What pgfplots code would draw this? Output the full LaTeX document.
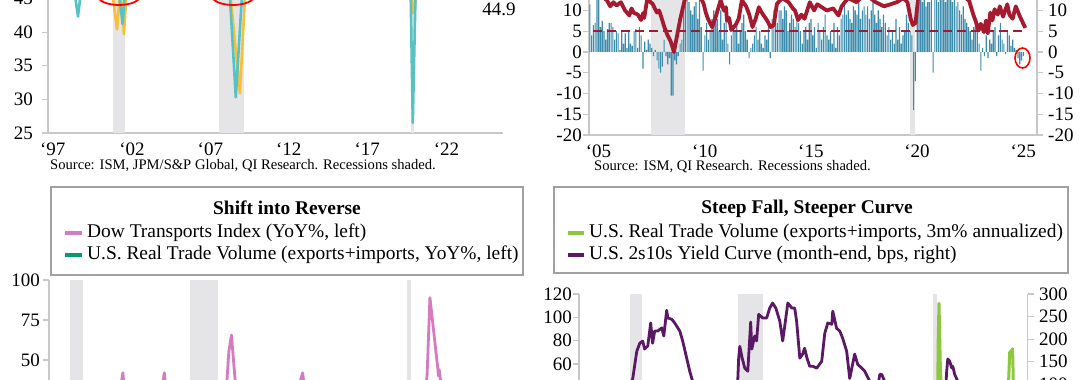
\documentclass[border=0pt]{standalone}
\usepackage{fontspec}
\setmainfont{Liberation Serif}
\usepackage{pgfplots}
\pgfplotsset{compat=1.18}
\definecolor{axisgray}{HTML}{C8C8CA}
\definecolor{recgray}{HTML}{E5E5E7}
\definecolor{tealc}{HTML}{55C3C6}
\definecolor{yellowc}{HTML}{F9BE3A}
\definecolor{barblue}{HTML}{3C8DAD}
\definecolor{darkred}{HTML}{A6192E}
\definecolor{pinkc}{HTML}{D67BBF}
\definecolor{greenc}{HTML}{009B77}
\definecolor{limec}{HTML}{8DC63F}
\definecolor{purplec}{HTML}{5B1865}
\definecolor{boxgray}{HTML}{A0A0A0}
\newcommand\tickfont{\fontsize{19}{21}\selectfont}
\newcommand\legfont{\fontsize{19.4}{22}\selectfont}
\newcommand\srcfont{\fontsize{14.6}{16}\selectfont}
\pgfplotsset{
  base/.style={scale only axis, anchor=south west,
    axis line style={draw=axisgray,line width=1.3pt},
    tick style={draw=axisgray,line width=1.1pt},
    tick align=outside, major tick length=6pt,
    ticklabel style={font=\tickfont, text=black},
    axis x line*=bottom, axis y line*=left,
    xtick style={draw=none}, clip=true},
}
\begin{document}
\begin{tikzpicture}[x=1pt,y=1pt]
\useasboundingbox (0,0) rectangle (1080,380);
\clip (0,0) rectangle (1080,380);
\fill[white] (0,0) rectangle (1080,380);
% ---------------- top-left -----------------
\begin{axis}[base, at={(48pt,247pt)}, width=455pt, height=235.5pt,
  xmin=1997, xmax=2026, ymin=25, ymax=60,
  ytick={25,30,35,40,45}, yticklabels={25,30,35,40,45},
  yticklabel style={inner sep=0pt, xshift=-9pt},
  xtick={1997.3,2002.35,2007.35,2012.35,2017.35,2022.4},
  xticklabels={‘97,‘02,‘07,‘12,‘17,‘22}]
\addplot[fill=recgray,draw=none] coordinates {(2001.17,25)(2001.92,25)(2001.92,60)(2001.17,60)} --cycle;
\addplot[fill=recgray,draw=none] coordinates {(2007.92,25)(2009.5,25)(2009.5,60)(2007.92,60)} --cycle;
\addplot[fill=recgray,draw=none] coordinates {(2020.12,25)(2020.35,25)(2020.35,60)(2020.12,60)} --cycle;
\addplot[yellowc, line width=2.6pt, line join=round] coordinates {
(1997.0,53)(1997.5,54)(1998.0,51)(1998.5,48)(1998.9,47)(1999.3,50)(1999.8,53)(2000.3,55)(2000.7,51)(2000.9,47)
(2001.15,45)(2001.4,40.4)(2001.58,45.5)(2001.72,44)(2001.84,39.7)(2002.0,45.5)(2002.3,50)(2003.0,49)(2004.0,56)
(2005.0,52)(2006.0,54)(2007.0,52)(2008.0,52)(2008.5,49)(2008.65,45)(2009.23,30.9)(2009.55,45)(2009.7,50)(2010.3,57)
(2011.0,55)(2012.0,50)(2013.0,51)(2014.0,53)(2015.0,51)(2016.0,51)(2017.0,53)(2018.0,54)(2019.0,50)(2019.9,50)
(2020.1,47)(2020.3,42.8)(2020.45,45)(2020.6,50)(2021.0,54)(2021.5,56)(2022.0,53)(2022.5,51)(2023.0,49)(2023.5,48)
(2024.0,50)(2024.5,49)(2025.0,50)(2025.4,46)(2025.55,44.9)};
\addplot[tealc, line width=2.6pt, line join=round] coordinates {
(1997.0,55)(1997.5,57)(1998.0,53)(1998.4,49)(1998.75,45)(1998.91,42.3)(1999.05,45)(1999.3,52)(1999.8,56)(2000.3,57)
(2000.7,51)(2000.9,48)(2001.3,46)(2001.55,45.5)(2001.75,41.2)(2001.9,45.5)(2002.2,52)(2003.0,50)(2004.0,60)(2005.0,56)
(2006.0,55)(2007.0,52)(2008.0,50)(2008.4,48)(2008.6,45)(2008.97,30.3)(2009.35,45)(2009.6,52)(2010.0,58)(2011.0,58)
(2012.0,53)(2013.0,53)(2014.0,56)(2015.0,52)(2016.0,50)(2017.0,57)(2018.0,59)(2019.0,52)(2019.9,48)(2020.05,46)
(2020.12,45)(2020.25,26.5)(2020.42,45)(2020.6,54)(2021.0,60)(2022.0,56)(2022.5,51)(2023.0,47)(2023.5,46.5)(2024.0,48)
(2024.5,47)(2025.0,50)(2025.55,49)};
\end{axis}
\draw[red, line width=1.8pt] (119,384) ellipse [x radius=21, y radius=9];
\draw[red, line width=1.8pt] (233,384) ellipse [x radius=21, y radius=9];
\node[font=\tickfont] at (499,371) {44.9};
\node[font=\srcfont, anchor=west, inner sep=0pt] at (50,214) {Source: ISM, JPM/S\&P Global, QI Research. Recessions shaded.};
% ---------------- top-right -----------------
\begin{axis}[base, at={(589pt,245pt)}, width=448pt, height=186.75pt,
  xmin=2005, xmax=2026.1, ymin=-20, ymax=25,
  ytick={-20,-15,-10,-5,0,5,10}, yticklabels={-20,-15,-10,-5,0,5,10},
  yticklabel style={inner sep=0pt, xshift=-1pt},
  xtick={2005.45,2010.45,2015.45,2020.45,2025.45},
  xticklabels={‘05,‘10,‘15,‘20,‘25}]
\addplot[fill=recgray,draw=none] coordinates {(2007.92,-20)(2009.5,-20)(2009.5,25)(2007.92,25)} --cycle;
\addplot[fill=recgray,draw=none] coordinates {(2020.12,-20)(2020.35,-20)(2020.35,25)(2020.12,25)} --cycle;
\addplot[ybar, bar width=1.15pt, bar shift=0pt, fill=barblue, draw=none]
 table[row sep=\\, header=false, x expr={2005.04+\coordindex/12}, y index=0] {
11.5\\4\\6.5\\7\\13\\13\\6\\7.5\\5\\3\\5.5\\7\\
7\\6\\3\\5\\4.5\\0.5\\5\\2\\4.5\\1\\5\\2\\
1.5\\5\\5.5\\1\\6\\4\\-4\\2.5\\0.5\\3\\2\\1\\
-1\\0.5\\-2\\-4\\-5\\-3.5\\3\\-1\\-3\\-1.5\\-10.5\\-10.5\\
-2\\-3\\-1\\2\\3\\12\\14\\13\\12\\10\\9\\11\\
12\\8\\13\\6\\-4.5\\4\\7\\3\\5\\8\\10\\9\\
8\\5\\10\\3\\7\\9\\2\\-3\\4\\6\\5\\7\\
2\\5\\7\\9\\5\\3\\-1.5\\1\\2\\4\\6\\3\\
5\\2\\1\\4\\3\\6\\-1.5\\8\\10\\9\\7\\10\\
10\\8\\11\\10\\5\\7\\9\\8\\6\\9\\7\\5\\
2\\5\\6\\3\\7\\8\\4\\6\\1\\7\\5\\3\\
6\\9\\4\\3\\5\\2\\7\\1\\6\\4\\8\\9\\
12\\9\\10\\8\\7\\11\\10\\9\\12\\8\\10\\11\\
9\\11\\8\\10\\12\\9\\7\\10\\8\\6\\9\\7\\
4\\6\\3\\5\\2\\8\\3\\6\\2\\4\\5\\9\\
7\\5\\4\\-14\\-7\\10\\12\\14\\12\\13\\11\\12\\
12\\13\\-5\\14\\13\\12\\15\\13\\14\\12\\13\\14\\
13\\12\\14\\11\\12\\10\\9\\11\\8\\7\\6\\5\\
3\\6\\8\\5\\2\\-4.5\\1\\-1\\4\\-1.5\\3\\2\\
5\\6\\-1\\4\\7\\3\\2\\-0.5\\5\\4\\1.5\\3\\
1\\0.5\\-1.5\\-3\\-2\\-1\\
};
\addplot[darkred, line width=1.8pt, dash pattern=on 9pt off 5pt] coordinates {(2005.2,5)(2025.55,5)};
\addplot[darkred, line width=3.8pt, line join=round] coordinates {
(2005.0,16)(2005.5,14)(2005.85,12.4)(2006.0,11)(2006.15,12)(2006.3,11.2)(2006.5,12)(2006.7,10)(2006.9,8.8)(2007.0,10.5)(2007.1,9.5)(2007.3,9)
(2007.45,7.7)(2007.55,9.4)(2007.6,8.2)(2007.75,13)(2007.9,12)(2008.0,11.6)(2008.1,10.5)(2008.2,9.5)(2008.3,10)(2008.4,8.5)(2008.55,6)(2008.7,4)(2008.85,2.5)
(2009.0,0)(2009.15,4)(2009.3,8)(2009.5,12.4)(2009.7,15)(2010.0,16)(2010.4,11.6)(2010.5,9.5)(2010.6,8)(2010.8,6)(2011.0,9)
(2011.2,12.5)(2011.35,10)(2011.45,10.8)(2011.5,7.5)(2011.6,8.2)(2011.7,5.3)(2011.9,6.5)(2012.05,8)(2012.2,12.5)(2012.4,11)(2012.55,9)(2012.7,6)
(2012.85,8)(2013.0,10.8)(2013.1,9.8)(2013.2,9)(2013.4,7.5)(2013.55,6)(2013.7,6.5)(2013.85,11.6)(2014.1,13)(2014.4,12)(2014.6,10.5)(2014.7,10)
(2014.85,7.7)(2015.0,9)(2015.15,8)(2015.4,12)(2015.6,10)(2015.75,11.5)(2015.9,11)(2016.2,10)(2016.5,10.5)(2016.75,8.8)(2016.9,11)
(2017.2,13)(2017.6,12)(2018.0,14)(2018.5,12)(2018.9,11)(2019.2,11.5)(2019.5,12)(2019.8,13)(2020.0,12)(2020.15,8)
(2020.25,6.5)(2020.38,7)(2020.5,13)(2021.0,16)(2021.5,18)(2022.0,16)(2022.5,14)(2022.9,12.4)(2023.1,9)(2023.2,7.6)
(2023.35,5.2)(2023.45,6.8)(2023.6,4.8)(2023.7,7.6)(2023.78,4.5)(2023.9,9.5)(2024.0,7.6)(2024.1,10.3)(2024.25,9)(2024.35,11)
(2024.5,8.5)(2024.7,11.5)(2024.8,9)(2024.95,8)(2025.1,11)(2025.3,8.5)(2025.55,5.8)};
\end{axis}
\begin{axis}[base, at={(589pt,245pt)}, width=448pt, height=186.75pt,
  xmin=2005, xmax=2026.1, ymin=-20, ymax=25,
  axis y line*=right, axis x line=none,
  ytick={-20,-15,-10,-5,0,5,10}, yticklabels={-20,-15,-10,-5,0,5,10},
  yticklabel style={inner sep=0pt, xshift=5pt}]
\addplot[draw=none] coordinates {(2005,0)};
\end{axis}
\draw[red, line width=1.6pt] (1022.5,322) ellipse [x radius=7.5, y radius=10];
\node[font=\srcfont, anchor=west, inner sep=0pt] at (594,213) {Source: ISM, QI Research. Recessions shaded.};
% ---------------- bottom-left -----------------
\begin{axis}[base, at={(49pt,-140pt)}, width=462.8pt, height=240pt,
  xmin=2000, xmax=2026, ymin=-50, ymax=100,
  ytick={-50,-25,0,25,50,75,100}, yticklabels={,,,,50,75,100},
  yticklabel style={inner sep=0pt, xshift=-3pt},
  xtick=\empty]
\addplot[fill=recgray,draw=none] coordinates {(2001.17,-50)(2001.92,-50)(2001.92,100)(2001.17,100)} --cycle;
\addplot[fill=recgray,draw=none] coordinates {(2007.92,-50)(2009.5,-50)(2009.5,100)(2007.92,100)} --cycle;
\addplot[fill=recgray,draw=none] coordinates {(2020.12,-50)(2020.35,-50)(2020.35,100)(2020.12,100)} --cycle;
\addplot[greenc, line width=2.6pt] coordinates {(2000,10)(2001,-5)(2002,0)(2004,8)(2006,6)(2008,2)(2009.3,-18)(2010.3,15)(2012,4)(2014,4)(2016,0)(2018,4)(2019,0)(2020.3,-20)(2021.3,18)(2022,6)(2023,-2)(2024,2)(2025,8)(2025.4,-2)};
\addplot[pinkc, line width=2.8pt, line join=round] coordinates {
(2000.0,-10)(2000.5,-20)(2001.0,5)(2001.5,-5)(2001.8,-25)(2002.3,5)(2002.8,-15)(2003.3,-10)(2003.8,25)(2004.05,35)
(2004.15,42)(2004.25,30)(2004.8,20)(2005.5,15)(2006.0,20)(2006.38,35)(2006.48,42)(2006.58,30)(2007.0,10)(2007.5,15)
(2008.0,-5)(2008.5,0)(2008.9,-30)(2009.2,-45)(2009.5,-30)(2009.9,20)(2010.1,55)(2010.25,65.6)(2010.4,45)(2010.6,20)
(2011.0,25)(2011.5,15)(2011.9,-10)(2012.5,5)(2013.0,10)(2013.5,20)(2013.9,30)(2014.12,37)(2014.25,42)(2014.38,30)
(2015.0,15)(2015.5,-10)(2015.9,-20)(2016.5,0)(2017.0,25)(2017.5,5)(2018.0,20)(2018.5,10)(2018.9,-20)(2019.5,5)
(2020.0,-5)(2020.25,-35)(2020.6,-10)(2020.9,20)(2021.1,30)(2021.24,40)(2021.4,89)(2021.85,44)(2021.88,40)(2021.92,44)
(2022.0,37)(2022.2,10)(2022.5,-20)(2022.9,-5)(2023.5,5)(2024.0,10)(2024.5,0)(2025.0,5)(2025.4,-10)};
\end{axis}
\draw[boxgray, line width=2pt, fill=white] (51,193) rectangle (523,105);
\node[font=\legfont\bfseries] at (287,172) {Shift into Reverse};
\draw[pinkc, line width=3.5pt] (65,147) -- (82,147);
\node[font=\legfont, anchor=west, inner sep=0pt] at (87,147) {Dow Transports Index (YoY\%, left)};
\draw[greenc, line width=3.5pt] (65,125) -- (82,125);
\node[font=\legfont, anchor=west, inner sep=0pt] at (87,125) {U.S. Real Trade Volume (exports+imports, YoY\%, left)};
% ---------------- bottom-right -----------------
\begin{axis}[base, at={(579pt,-194pt)}, width=448.8pt, height=280pt,
  xmin=1998, xmax=2026.05, ymin=-120, ymax=120,
  ytick={-120,-100,-80,-60,-40,-20,0,20,40,60,80,100,120},
  yticklabels={,,,,,,,,40,60,80,100,120},
  yticklabel style={inner sep=0pt, xshift=-1pt},
  xtick=\empty]
\addplot[fill=recgray,draw=none] coordinates {(2001.17,-120)(2001.92,-120)(2001.92,120)(2001.17,120)} --cycle;
\addplot[fill=recgray,draw=none] coordinates {(2007.92,-120)(2009.5,-120)(2009.5,120)(2007.92,120)} --cycle;
\addplot[fill=recgray,draw=none] coordinates {(2020.12,-120)(2020.35,-120)(2020.35,120)(2020.12,120)} --cycle;
\addplot[limec, line width=3pt, line join=round] coordinates {
(1998,5)(1999,10)(2000,15)(2001,-10)(2002,8)(2003,5)(2004,12)(2006,8)(2008,0)(2008.9,-30)(2009.2,-40)(2009.6,20)
(2010,25)(2012,5)(2014,5)(2016,0)(2018,5)(2019,-2)(2020.0,-5)(2020.3,-60)(2020.38,-20)(2020.45,80)(2020.5,112)
(2020.58,60)(2020.67,30)(2021,15)(2022,5)(2023,-3)(2024,4)(2024.75,10)(2024.85,45)(2024.92,70)(2025.0,71)(2025.1,73)
(2025.18,20)(2025.3,-25)(2025.4,-30)};
\end{axis}
\begin{axis}[base, at={(579pt,-194pt)}, width=448.8pt, height=280pt,
  xmin=1998, xmax=2026.05, ymin=-320, ymax=300,
  axis y line*=right, axis x line=none,
  ytick={-300,-250,-200,-150,-100,-50,0,50,100,150,200,250,300},
  yticklabels={,,,,,,,,100,150,200,250,300},
  yticklabel style={inner sep=0pt, xshift=5pt}]
\addplot[purplec, line width=2.8pt, line join=round] coordinates {
(1998.0,20)(1998.5,10)(1999.0,15)(1999.5,35)(2000.0,-10)(2000.5,-35)(2000.9,-5)(2001.1,60)(2001.3,107)(2001.36,113)
(2001.61,173)(2001.8,191)(2001.98,196)(2002.1,178)(2002.3,185)(2002.48,236)(2002.6,191)(2002.73,218)(2002.92,218)(2003.17,225)
(2003.3,207)(2003.48,264)(2003.55,247)(2003.8,244)(2003.98,236)(2004.3,218)(2004.48,196)(2004.73,158)(2004.92,129)(2005.1,107)
(2005.4,70)(2005.8,25)(2006.2,5)(2006.6,-15)(2007.0,-5)(2007.4,15)(2007.7,60)(2007.92,107)(2007.98,158)(2008.05,184)
(2008.2,158)(2008.36,136)(2008.55,129)(2008.73,238)(2008.8,178)(2008.98,207)(2009.1,196)(2009.23,255)(2009.48,247)(2009.73,247)
(2009.92,269)(2010.1,280)(2010.3,269)(2010.55,240)(2010.73,196)(2010.9,240)(2011.05,280)(2011.3,269)(2011.48,269)(2011.6,240)
(2011.8,158)(2011.98,167)(2012.1,180)(2012.25,158)(2012.42,140)(2012.6,140)(2012.86,136)(2013.17,151)(2013.36,213)(2013.55,236)
(2013.8,233)(2013.86,262)(2014.1,224)(2014.3,218)(2014.48,202)(2014.73,173)(2014.92,113)(2015.23,167)(2015.42,144)(2015.67,136)
(2015.86,129)(2016.17,107)(2016.4,95)(2016.7,100)(2016.8,122)(2016.92,122)(2017.1,107)(2017.5,95)(2018.0,55)(2018.5,30)
(2019.0,15)(2019.5,-5)(2019.9,25)(2020.3,50)(2020.6,55)(2020.9,80)(2020.98,129)(2021.05,156)(2021.17,151)(2021.3,136)
(2021.36,140)(2021.48,122)(2021.67,107)(2022.0,80)(2022.3,20)(2022.6,-30)(2023.0,-60)(2023.5,-100)(2024.0,-35)(2024.6,-10)
(2024.8,15)(2025.0,30)(2025.4,50)};
\end{axis}
\draw[boxgray, line width=2pt, fill=white] (554,193) rectangle (1068,107);
\node[font=\legfont\bfseries] at (807,171) {Steep Fall, Steeper Curve};
\draw[limec, line width=3.5pt] (568,147) -- (584,147);
\node[font=\legfont, anchor=west, inner sep=0pt] at (589,147) {U.S. Real Trade Volume (exports+imports, 3m\% annualized)};
\draw[purplec, line width=3.5pt] (568,125) -- (584,125);
\node[font=\legfont, anchor=west, inner sep=0pt] at (589,125) {U.S. 2s10s Yield Curve (month-end, bps, right)};
\end{tikzpicture}
\end{document}
